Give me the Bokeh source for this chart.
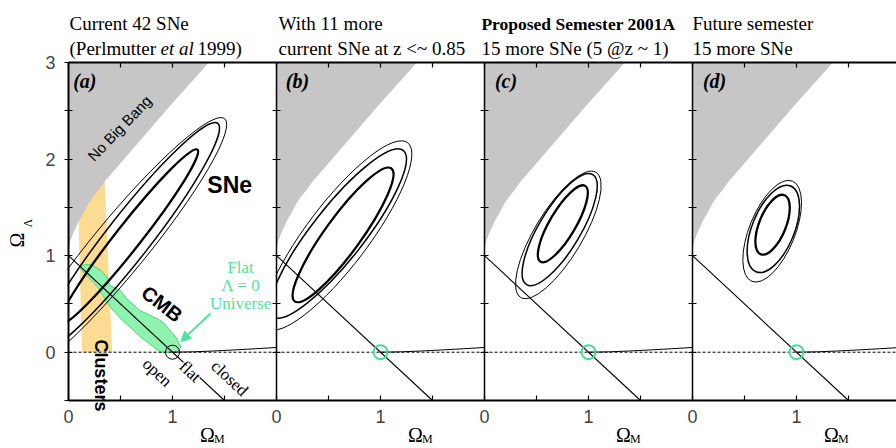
import math
from bokeh.plotting import figure
from bokeh.models import (Range1d, LinearAxis, FixedTicker, Label, Arrow, NormalHead, Grid)
from bokeh.embed import file_html
from bokeh.resources import INLINE

# ---------------- data ----------------
PANEL_OFFSETS = [0, 2, 4, 6]          # each panel spans Omega_M 0..2
PANEL_LETTERS = ["(a)", "(b)", "(c)", "(d)"]
TITLE_LINE1 = ["Current 42 SNe", "With 11 more", "Proposed Semester 2001A", "Future semester"]
TITLE_LINE2 = [None, "current SNe at z <~ 0.85", "15 more SNe (5 @z ~ 1)", "15  more SNe"]
TITLE_BOLD = [False, False, True, False]

X_TICKS_LOCAL = [0, 0.5, 1, 1.5]
X_TICK_TEXT = {0: "0", 1: "1"}
Y_TICKS = [-0.5, 0, 0.5, 1, 1.5, 2, 2.5, 3]
Y_TICK_TEXT = {0: "0", 1: "1", 2: "2", 3: "3"}

# "No Big Bang" boundary (Omega_M, Omega_Lambda)
NBB_X = [0.0, 0.004, 0.015, 0.04, 0.1, 0.2, 0.35, 0.6, 1.0, 1.35]
NBB_Y = [1.0, 1.08, 1.14, 1.22, 1.36, 1.555, 1.77, 2.08, 2.58, 3.0]

# flat universe line
FLAT_X = [0.0, 1.5]
FLAT_Y = [1.0, -0.5]

# recollapse boundary (Lambda ~ 0)
REC_X = [1.0, 1.2, 1.4, 1.6, 1.8, 2.0]
REC_Y = [0.0, 0.004, 0.013, 0.024, 0.036, 0.049]

# clusters band (panel a)
CLU_X = [0.13, 0.42, 0.345, 0.085]
CLU_Y = [0.0, 0.0, 1.85, 1.85]

# CMB region (panel a)
CMB_X = [0.115, 0.122, 0.21, 0.31, 0.37, 0.40, 0.50, 0.56, 0.69, 0.85, 0.92, 0.96, 1.03, 1.08, 1.045,
         0.885, 0.69, 0.50, 0.40, 0.28, 0.16]
CMB_Y = [0.865, 0.90, 0.91, 0.85, 0.78, 0.69, 0.64, 0.555, 0.43, 0.35, 0.30, 0.245, 0.16, 0.055, 0.0,
         0.0, 0.16, 0.35, 0.47, 0.675, 0.81]

# SN confidence contours per panel: centre, full major (x units), full minor (y units), angle (deg)
CONT_CX = [[0.58, 0.58, 0.486], [0.64, 0.592, 0.586], [0.753, 0.723, 0.71], [0.77, 0.777, 0.766]]
CONT_CY = [[1.195, 1.19, 1.087], [1.215, 1.229, 1.209], [1.33, 1.27, 1.215], [1.32, 1.277, 1.253]]
CONT_W = [[2.135, 2.78, 3.2], [1.58, 2.03, 2.237], [0.846, 1.235, 1.404], [0.612, 0.89, 1.04]]
CONT_H = [[0.26, 0.456, 0.56], [0.37, 0.54, 0.642], [0.269, 0.428, 0.494], [0.277, 0.438, 0.474]]
CONT_ANG = [[51.8, 52, 50.6], [54, 51.9, 52.9], [59.5, 59, 59], [68, 68, 68]]
CONT_LW = [2.3, 1.5, 1.0]

GRAY = "#c6c6c6"
ORANGE = "#fddb92"
GREEN = "#4fe39a"
SERIF = "Liberation Serif"
SANS = "Liberation Sans"

# ---------------- figure: the frame covers the whole canvas ----------------
W, H = 896, 448
LEFT_PX, TOP_PX, BOTTOM_PX = 68, 62, 400      # where Omega_M=0, Omega_L=3, Omega_L=-0.5 sit
PX_X = 104.0
PX_Y = (BOTTOM_PX - TOP_PX) / 3.5
X0, X1 = -LEFT_PX / PX_X, (W - LEFT_PX) / PX_X
Y1 = 3 + TOP_PX / PX_Y
Y0 = -0.5 - (H - BOTTOM_PX) / PX_Y

p = figure(width=W, height=H, x_range=Range1d(X0, X1), y_range=Range1d(Y0, Y1),
           output_backend="svg", toolbar_location=None, x_axis_location=None, y_axis_location=None,
           min_border_left=0, min_border_right=0, min_border_top=0, min_border_bottom=0)
p.outline_line_color = None
p.background_fill_color = "white"
p.border_fill_color = "white"
for g in p.select(type=Grid):
    g.visible = False

xticks = [o + t for o in PANEL_OFFSETS for t in X_TICKS_LOCAL]
xover = {o + t: X_TICK_TEXT.get(t, "") for o in PANEL_OFFSETS for t in X_TICKS_LOCAL}
bax = LinearAxis(ticker=FixedTicker(ticks=xticks), major_label_overrides=xover,
                 fixed_location=-0.5, bounds=(0, X1),
                 major_tick_in=5, major_tick_out=0, minor_tick_line_color=None,
                 axis_line_width=2, major_tick_line_width=1.2,
                 major_label_text_font=SANS, major_label_text_font_size="18px",
                 major_label_standoff=9)
p.add_layout(bax, "below")
tax = LinearAxis(ticker=FixedTicker(ticks=xticks), major_label_overrides={k: "" for k in xticks},
                 fixed_location=3, bounds=(0, X1),
                 major_tick_in=5, major_tick_out=0, minor_tick_line_color=None,
                 axis_line_width=1.8, major_tick_line_width=1.2,
                 major_label_text_font_size="0px", major_label_standoff=0)
p.add_layout(tax, "above")
yover = {t: Y_TICK_TEXT.get(t, "") for t in Y_TICKS}
lax = LinearAxis(ticker=FixedTicker(ticks=Y_TICKS), major_label_overrides=yover,
                 fixed_location=0, bounds=(-0.5, 3),
                 major_tick_in=4, major_tick_out=4, minor_tick_line_color=None,
                 axis_line_width=2, major_tick_line_width=1.2,
                 major_label_text_font=SANS, major_label_text_font_size="18px",
                 major_label_standoff=9)
p.add_layout(lax, "left")
for o in PANEL_OFFSETS[1:]:
    sep = LinearAxis(ticker=FixedTicker(ticks=Y_TICKS), major_label_overrides={t: "" for t in Y_TICKS},
                     fixed_location=o, bounds=(-0.5, 3),
                     major_tick_in=4, major_tick_out=4, minor_tick_line_color=None,
                     axis_line_width=1.5, major_tick_line_width=1.2,
                     major_label_text_font_size="0px", major_label_standoff=0)
    p.add_layout(sep, "left")

# clusters band
p.patch(CLU_X, CLU_Y, fill_color=ORANGE, line_color=None)

# no big bang regions
for o in PANEL_OFFSETS:
    xs = [o + x for x in NBB_X] + [o + NBB_X[0]]
    ys = list(NBB_Y) + [NBB_Y[-1]]
    p.patch(xs, ys, fill_color=GRAY, line_color=None)

# CMB
p.patch(CMB_X, CMB_Y, fill_color="#8ff3b0", line_color="#3fdc74", line_width=1)

# zero-lambda lines and flat lines
for o in PANEL_OFFSETS:
    p.line([o + 0, o + 2], [0, 0], line_color="black", line_width=1, line_dash="3 2")
    p.line([o + x for x in REC_X], REC_Y, line_color="black", line_width=1)
    p.line([o + x for x in FLAT_X], FLAT_Y, line_color="black", line_width=1.1)

# SN contours
for i, o in enumerate(PANEL_OFFSETS):
    for k in range(3):
        p.ellipse(x=[o + CONT_CX[i][k]], y=[CONT_CY[i][k]], width=[CONT_W[i][k]],
                  height=[CONT_H[i][k]], angle=[math.radians(CONT_ANG[i][k])],
                  fill_color=None, line_color="black", line_width=CONT_LW[k])

# keep each panel's contours inside its own frame
p.quad(left=[X0], right=[-0.008], bottom=[-0.5], top=[3], fill_color="white", line_color=None)
p.quad(left=[PANEL_OFFSETS[1] - 0.14], right=[PANEL_OFFSETS[1] - 0.006], bottom=[0.06], top=[0.9],
       fill_color="white", line_color=None)

# flat Lambda=0 markers
p.scatter([PANEL_OFFSETS[0] + 1], [0], marker="circle", size=14, fill_color=None,
          line_color="black", line_width=1)
p.scatter([o + 1 for o in PANEL_OFFSETS[1:]], [0] * 3, marker="circle", size=14, fill_color=None,
          line_color="#3fe08e", line_width=2)


def lab(x, y, text, size, font=SERIF, style="normal", color="black", angle=0.0,
        align="left", baseline="alphabetic", **kw):
    p.add_layout(Label(x=x, y=y, text=text, text_font=font, text_font_size=f"{size}px",
                       text_font_style=style, text_color=color, angle=math.radians(angle),
                       text_align=align, text_baseline=baseline, **kw))


# titles
title_dx = [0.01, 0.02, -0.03, 0.0]
for i, o in enumerate(PANEL_OFFSETS):
    if TITLE_BOLD[i]:
        lab(o + title_dx[i], 3.40, TITLE_LINE1[i], 17.5, style="bold")
    else:
        lab(o + title_dx[i], 3.40, TITLE_LINE1[i], 19)
    if TITLE_LINE2[i]:
        lab(o + title_dx[i], 3.144, TITLE_LINE2[i], 19)
lab(0.01, 3.144, "(Perlmutter", 19)
lab(0.885, 3.144, "et al", 19, style="italic")
lab(1.24, 3.144, "1999)", 19)

# panel letters
letter_dx = [0.045, 0.09, 0.1, 0.1]
for i, o in enumerate(PANEL_OFFSETS):
    lab(o + letter_dx[i], 2.81, PANEL_LETTERS[i], 20, style="bold italic")

# axis titles
for o in PANEL_OFFSETS:
    lab(o + 1.335, -0.86, "\u03a9", 20, align="center", baseline="middle")
    lab(o + 1.45, -0.90, "M", 12, align="center", baseline="middle")
lab(-0.5, 1.16, "\u03a9", 20, angle=90, align="center", baseline="middle")
lab(-0.394, 1.336, "\u039b", 12, angle=90, align="center", baseline="middle")

# panel (a) annotations
lab(0.49, 2.32, "No Big Bang", 15, font=SANS, angle=46, align="center", baseline="middle")
lab(1.55, 1.73, "SNe", 23, font=SANS, style="bold", align="center", baseline="middle")
lab(0.90, 0.50, "CMB", 20, font=SANS, style="bold", angle=-38, align="center", baseline="middle")
lab(0.31, -0.24, "Clusters", 18, font=SANS, style="bold", angle=-90, align="center", baseline="middle")
lab(1.655, 0.88, "Flat", 17, color=GREEN, align="center", baseline="middle")
lab(1.655, 0.69, "\u039b = 0", 17, color=GREEN, align="center", baseline="middle")
lab(1.655, 0.50, "Universe", 17, color=GREEN, align="center", baseline="middle")
lab(0.853, -0.21, "open", 17, angle=-43, align="center", baseline="middle")
lab(1.17, -0.20, "flat", 17, angle=-43, align="center", baseline="middle",
    background_fill_color="white")
lab(1.55, -0.27, "closed", 17, angle=-43, align="center", baseline="middle")

p.add_layout(Arrow(end=NormalHead(size=10, fill_color=GREEN, line_color=GREEN),
                   x_start=1.365, y_start=0.40, x_end=1.08, y_end=0.11,
                   line_color=GREEN, line_width=2))

open("out.html", "w").write(file_html(p, INLINE))
